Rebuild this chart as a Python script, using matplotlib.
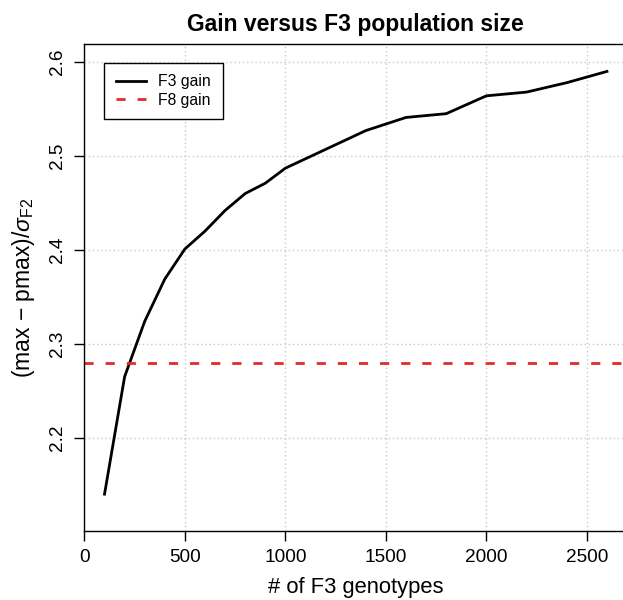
import numpy as np
import matplotlib.pyplot as plt

plt.rcParams['font.family'] = ['Liberation Sans', 'DejaVu Sans']
plt.rcParams['mathtext.fontset'] = 'custom'
plt.rcParams['mathtext.rm'] = 'Liberation Sans'
plt.rcParams['mathtext.it'] = 'Liberation Sans:italic'

# данные
n_f3 = [100, 200, 300, 400, 500, 600, 700, 800, 900, 1000,
        1200, 1400, 1600, 1800, 2000, 2200, 2400, 2600]
f3_gain = [2.140, 2.265, 2.324, 2.369, 2.401, 2.420, 2.442, 2.460, 2.471, 2.487,
           2.507, 2.527, 2.541, 2.545, 2.564, 2.568, 2.578, 2.590]
f8_gain = 2.280

x_ticks = [0, 500, 1000, 1500, 2000, 2500]
y_ticks = [2.2, 2.3, 2.4, 2.5, 2.6]

fig = plt.figure(figsize=(6.23, 6.0), dpi=100)
ax = fig.add_axes([0.1355, 0.115, 0.871, 0.8117])

ax.grid(True, color='#c8c8c8', linestyle=(0, (1, 2)), linewidth=1.0)
ax.set_axisbelow(True)

ax.plot(n_f3, f3_gain, color='black', lw=2.0, label='F3 gain', solid_joinstyle='round')
ax.axhline(f8_gain, color='#e02b2b', lw=2.0, linestyle=(0, (3.3, 4.3)), label='F8 gain')

ax.set_xlim(0, 2700)
ax.set_ylim(2.1008, 2.6192)
ax.set_xticks(x_ticks)
ax.set_yticks(y_ticks)
ax.set_xticklabels([str(t) for t in x_ticks])
ax.set_yticklabels([f'{t:.1f}' for t in y_ticks], rotation=90, va='center')

ax.tick_params(direction='out', length=7, width=1, labelsize=13.7, pad=6)
for s in ax.spines.values():
    s.set_linewidth(1.0)

ax.set_xlabel('# of F3 genotypes', fontsize=15.8, labelpad=8)
ax.set_ylabel(r'(max $-$ pmax)/$\sigma_{\mathrm{F2}}$', fontsize=16.5, labelpad=9)
ax.set_title('Gain versus F3 population size', fontsize=16.5, fontweight='bold', pad=9)

leg = ax.legend(loc='upper left', bbox_to_anchor=(0.0367, 0.9616), borderaxespad=0,
                fancybox=False, edgecolor='black', framealpha=1, fontsize=11.3,
                handlelength=1.9, borderpad=0.75, labelspacing=0.2, handletextpad=0.8)
leg.get_frame().set_linewidth(1.0)

fig.savefig('out.png', dpi=100)
